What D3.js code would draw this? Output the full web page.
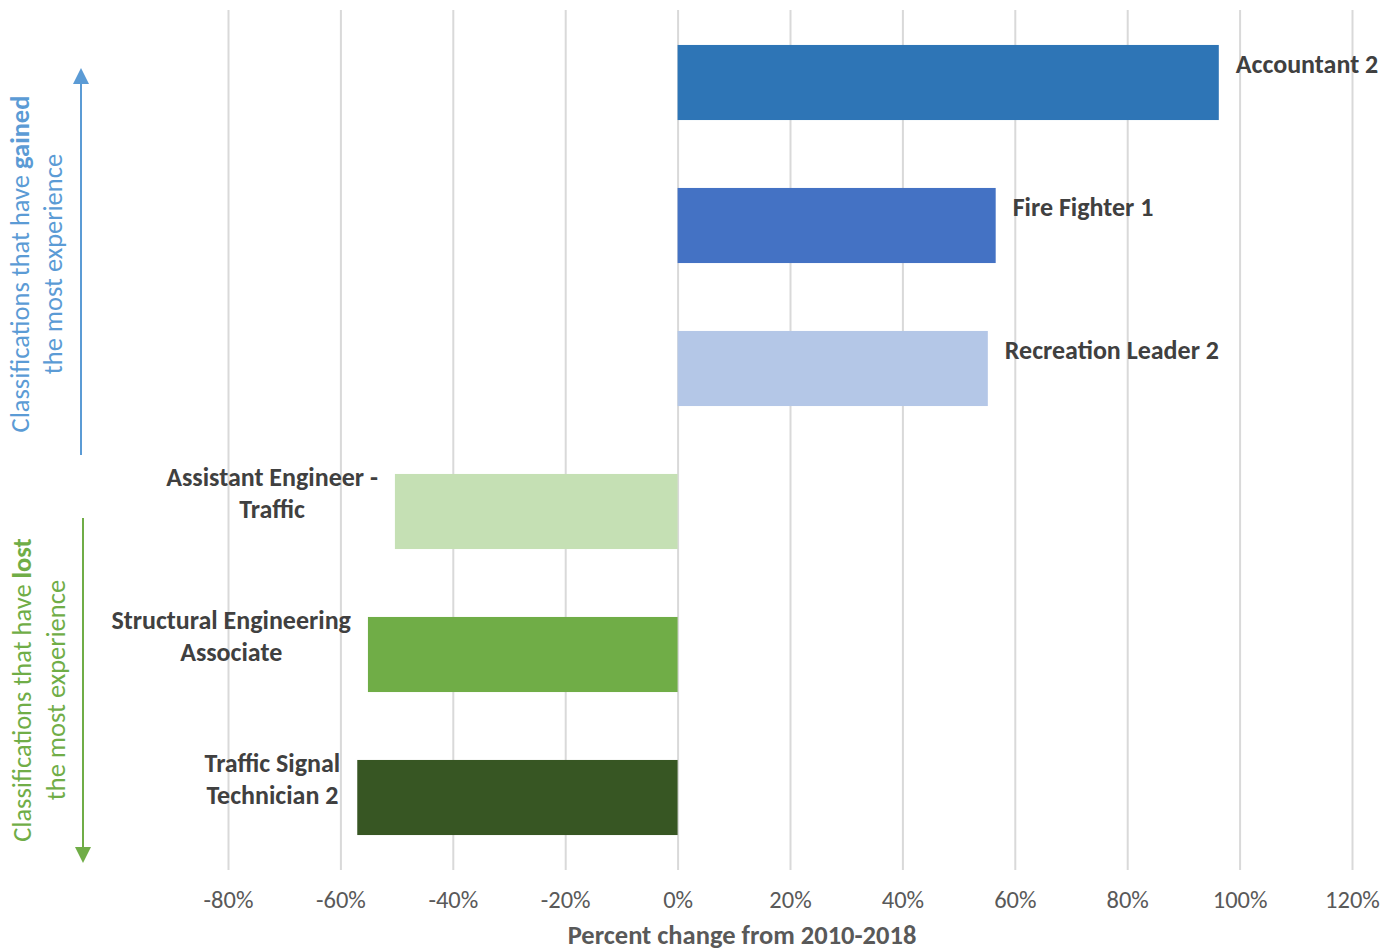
<!DOCTYPE html>
<meta charset="utf-8">
<style>
  body { margin: 0; background: #fff; }
  text { font-family: Carlito, Lato, "Open Sans", sans-serif; }
</style>
<body>
<script src="https://cdn.jsdelivr.net/npm/d3@7"></script>
<script>
// classifications, top to bottom
var categories = ["Accountant 2", "Fire Fighter 1", "Recreation Leader 2",
  "Assistant Engineer - Traffic", "Structural Engineering Associate", "Traffic Signal Technician 2"];
// label lines as wrapped in the chart
var labelLines = [["Accountant 2"], ["Fire Fighter 1"], ["Recreation Leader 2"],
  ["Assistant Engineer -", "Traffic"], ["Structural Engineering", "Associate"], ["Traffic Signal", "Technician 2"]];
// percent change 2010-2018
var values = [0.963, 0.566, 0.552, -0.503, -0.551, -0.570];
var colors = ["#2E75B6", "#4472C4", "#B4C7E7", "#C5E0B4", "#70AD47", "#375623"];
var ticks = [-0.8, -0.6, -0.4, -0.2, 0, 0.2, 0.4, 0.6, 0.8, 1.0, 1.2];

var width = 1398, height = 952;
var svg = d3.select("body").append("svg")
  .attr("width", width)
  .attr("height", height);

var x = d3.scaleLinear().domain([-0.8, 1.2]).range([228, 1352]);
var y = d3.scaleBand().domain(categories).range([11, 869])
  .paddingInner(0.475).paddingOuter(0.2375);

// gridlines
var grid = svg.append("g")
  .attr("transform", "translate(0,870)")
  .call(d3.axisBottom(x).tickValues(ticks).tickSize(-860).tickFormat(""));
grid.select(".domain").remove();
grid.selectAll("line").attr("stroke", "#D9D9D9").attr("stroke-width", 2);

// tick labels
var pct = function(d) { return Math.round(d * 100) + "%"; };
var axis = svg.append("g")
  .attr("transform", "translate(0,890)")
  .call(d3.axisBottom(x).tickValues(ticks).tickSize(0).tickFormat(pct));
axis.select(".domain").remove();
axis.selectAll("text")
  .attr("fill", "#595959")
  .style("font-size", "24.5px")
  .attr("dy", "0.6em");

svg.append("text")
  .attr("x", 742).attr("y", 944)
  .attr("text-anchor", "middle")
  .attr("fill", "#595959")
  .style("font-size", "26.5px")
  .style("font-weight", "bold")
  .text("Percent change from 2010-2018");

// bars
svg.selectAll(".bar")
  .data(categories)
  .enter().append("rect")
  .attr("class", "bar")
  .attr("x", function(d, i) { return x(Math.min(0, values[i])); })
  .attr("width", function(d, i) { return Math.abs(x(values[i]) - x(0)); })
  .attr("y", function(d) { return y(d); })
  .attr("height", y.bandwidth())
  .attr("fill", function(d, i) { return colors[i]; });

// data labels
var lineH = 32;
categories.forEach(function(c, i) {
  var lines = labelLines[i];
  var cy = y(c) + y.bandwidth() / 2 - 19;
  var t = svg.append("text")
    .attr("fill", "#404040")
    .style("font-size", "26px")
    .style("font-weight", "bold");
  lines.forEach(function(l, k) {
    t.append("tspan").text(l)
      .attr("y", cy + (k - (lines.length - 1) / 2) * lineH)
      .attr("dy", "0.35em");
  });
  if (values[i] >= 0) {
    t.attr("text-anchor", "start");
    t.selectAll("tspan").attr("x", x(values[i]) + 17);
  } else {
    var maxW = 0;
    t.selectAll("tspan").each(function() { maxW = Math.max(maxW, this.getComputedTextLength()); });
    t.attr("text-anchor", "middle");
    t.selectAll("tspan").attr("x", x(values[i]) - 17 - maxW / 2);
  }
});

// side annotations
function sideNote(parts, line2, color, cy, x1, x2) {
  var t1 = svg.append("text")
    .attr("transform", "translate(" + x1 + "," + cy + ") rotate(-90)")
    .attr("text-anchor", "middle").attr("dy", "0.35em")
    .attr("fill", color).style("font-size", "26.5px");
  parts.forEach(function(p) {
    t1.append("tspan").text(p[0]).style("font-weight", p[1] ? "bold" : "normal");
  });
  svg.append("text")
    .attr("transform", "translate(" + x2 + "," + cy + ") rotate(-90)")
    .attr("text-anchor", "middle").attr("dy", "0.35em")
    .attr("fill", color).style("font-size", "26.5px")
    .text(line2);
}
sideNote([["Classifications that have ", false], ["gained", true]], "the most experience", "#5B9BD5", 264, 20, 53);
sideNote([["Classifications that have ", false], ["lost", true]], "the most experience", "#70AD47", 690, 22, 56);

// arrows
function arrow(xp, y0, y1, color) {
  var dir = y1 < y0 ? 1 : -1;
  svg.append("line")
    .attr("x1", xp).attr("x2", xp)
    .attr("y1", y0).attr("y2", y1 + dir * 14)
    .attr("stroke", color).attr("stroke-width", 2);
  svg.append("path")
    .attr("d", "M" + xp + "," + y1 + "L" + (xp - 8) + "," + (y1 + dir * 16) + "L" + (xp + 8) + "," + (y1 + dir * 16) + "Z")
    .attr("fill", color);
}
arrow(81, 455, 68, "#5B9BD5");
arrow(83, 518, 863, "#70AD47");
</script>
</body>
